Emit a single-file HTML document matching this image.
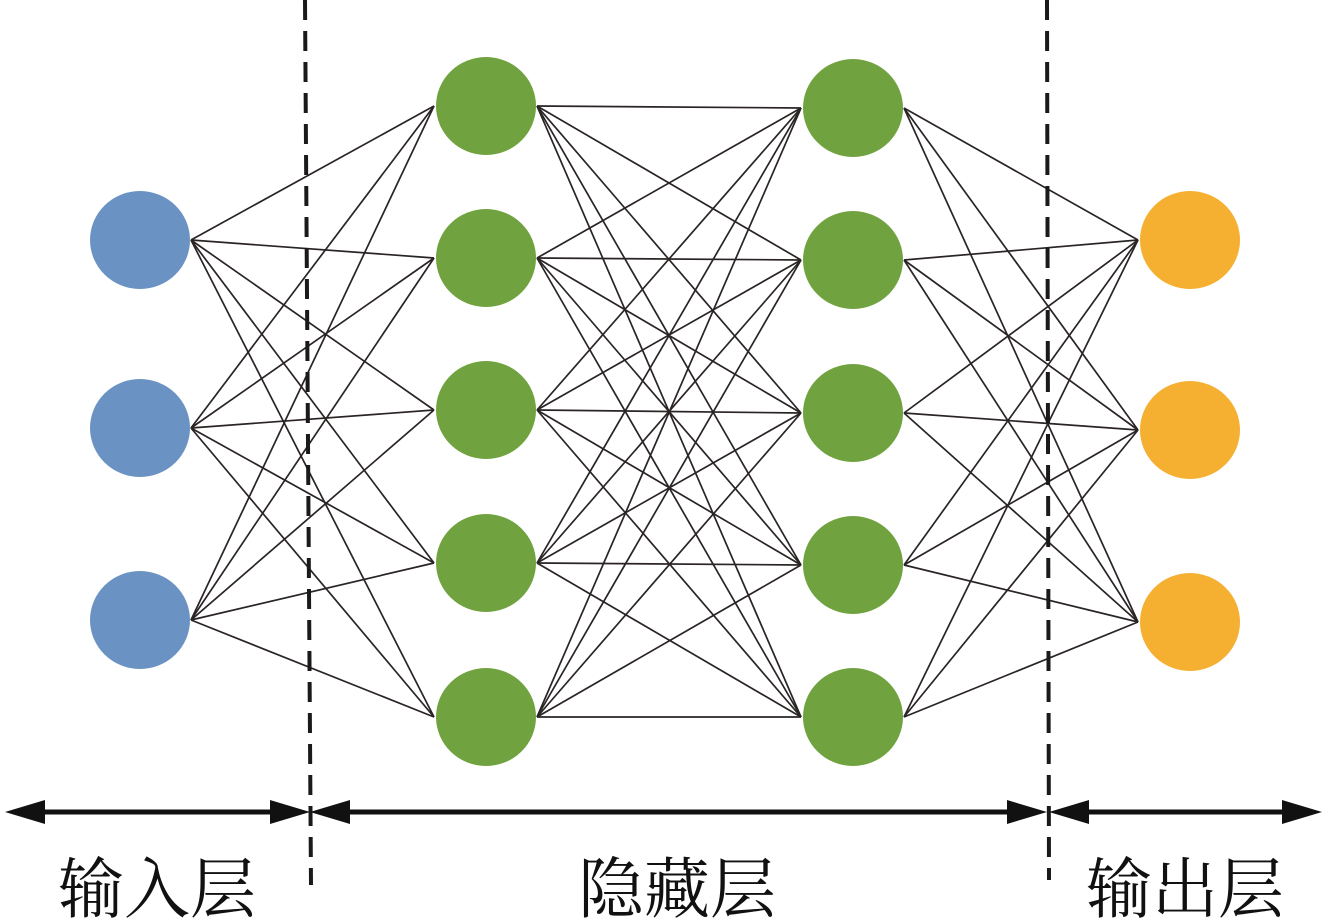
<!DOCTYPE html>
<html><head><meta charset="utf-8"><style>
html,body{margin:0;padding:0;background:#fff;}
svg{display:block}
text{font-family:"Liberation Serif","Noto Serif CJK SC",serif;font-size:66px;fill:#111}
</style></head><body>
<svg id="s" width="1328" height="920" xmlns="http://www.w3.org/2000/svg">
<g id="lines" stroke="#2a2424" stroke-width="1.7"></g>
<g id="nodes"></g>
<line x1="305" y1="0" x2="311" y2="885" stroke="#1a1a1a" stroke-width="4" stroke-dasharray="20,11"/>
<line x1="1047" y1="0" x2="1049" y2="880" stroke="#1a1a1a" stroke-width="4" stroke-dasharray="20,11"/>
<g stroke="#111" stroke-width="5">
<line x1="40" y1="812" x2="275" y2="812"/>
<line x1="345" y1="812" x2="1012" y2="812"/>
<line x1="1088" y1="812" x2="1285" y2="812"/>
</g>
<g fill="#111">
<polygon points="5,812 45,800 45,824"/>
<polygon points="310,812 270,800 270,824"/>
<polygon points="310,812 350,800 350,824"/>
<polygon points="1047,812 1007,800 1007,824"/>
<polygon points="1049,812 1089,800 1089,824"/>
<polygon points="1322,812 1282,800 1282,824"/>
</g>
<text x="58" y="912">输入层</text>
<text x="578" y="912">隐藏层</text>
<text x="1086" y="912">输出层</text>
</svg>
<script>
var L=[{x:140,ys:[240,428,620],c:"#6a93c4"},{x:486,ys:[106,258,410,563,717],c:"#70a340"},{x:853,ys:[108,260,413,565,717],c:"#70a340"},{x:1190,ys:[240,430,622],c:"#f5b031"}];
var ns="http://www.w3.org/2000/svg",lg=document.getElementById("lines"),ng=document.getElementById("nodes");
for(var i=0;i<3;i++){var a=L[i],b=L[i+1];a.ys.forEach(function(y1){b.ys.forEach(function(y2){var l=document.createElementNS(ns,"line");l.setAttribute("x1",a.x+51);l.setAttribute("y1",y1);l.setAttribute("x2",b.x-52);l.setAttribute("y2",y2);lg.appendChild(l);});});}
L.forEach(function(a){a.ys.forEach(function(y){var c=document.createElementNS(ns,"ellipse");c.setAttribute("cx",a.x);c.setAttribute("cy",y);c.setAttribute("rx",50);c.setAttribute("ry",49);c.setAttribute("fill",a.c);ng.appendChild(c);});});
</script>
</body></html>
